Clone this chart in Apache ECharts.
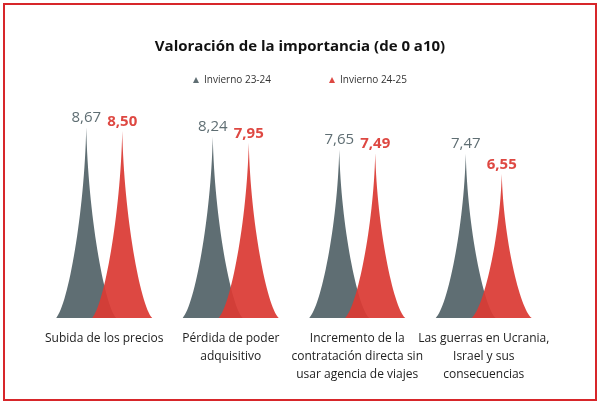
<!DOCTYPE html>
<html>
<head>
<meta charset="utf-8">
<script src="https://cdn.jsdelivr.net/npm/echarts@6/dist/echarts.min.js"></script>
<style>
  html, body { margin: 0; padding: 0; background: #fff; }
  #main { width: 600px; height: 405px; }
</style>
</head>
<body>
<div id="main"></div>
<script>
// datos del gráfico
var categorias = [
  'Subida de los precios',
  'Pérdida de poder\nadquisitivo',
  'Incremento de la\ncontratación directa sin\nusar agencia de viajes',
  'Las guerras en Ucrania,\nIsrael y sus\nconsecuencias'
];
var invierno2324 = [8.67, 8.24, 7.65, 7.47];
var invierno2425 = [8.50, 7.95, 7.49, 6.55];
var nombres = ['Invierno 23-24', 'Invierno 24-25'];

// pico con lados cóncavos (se abre hacia la base)
var spike = 'path://M0,10 L10,10 C8,9.3 5.3,4.5 5,0 C4.7,4.5 2,9.3 0,10 z';
var fuente = '"Open Sans", "Noto Sans", sans-serif';

var chart = echarts.init(document.getElementById('main'));

var option = {
  backgroundColor: '#fff',
  textStyle: { fontFamily: fuente },
  title: {
    text: 'Valoración de la importancia (de 0 a10)',
    left: 'center',
    top: 34,
    textStyle: { fontSize: 15, fontWeight: 'bold', color: '#111', fontFamily: fuente }
  },
  legend: {
    top: 70,
    left: 'center',
    icon: 'triangle',
    itemWidth: 6,
    itemHeight: 6,
    itemGap: 58,
    textStyle: { fontSize: 10, color: '#333', fontFamily: fuente },
    data: nombres
  },
  grid: { left: 41, right: 53, top: 98, bottom: 87 },
  xAxis: {
    type: 'category',
    data: categorias,
    axisLine: { show: false },
    axisTick: { show: false },
    axisLabel: {
      interval: 0,
      margin: 12,
      fontSize: 12,
      lineHeight: 18,
      color: '#222',
      fontFamily: fuente
    }
  },
  yAxis: {
    type: 'value',
    min: 0,
    max: 10,
    show: false,
    splitLine: { show: false }
  },
  series: [
    {
      name: nombres[0],
      type: 'pictorialBar',
      symbol: spike,
      barWidth: 60,
      barGap: '-40%',
      itemStyle: { color: '#5f6e73' },
      label: {
        show: true,
        position: 'top',
        distance: 2,
        fontSize: 15,
        color: '#5f6e73',
        fontFamily: fuente,
        formatter: function (p) { return p.value.toFixed(2).replace('.', ','); }
      },
      data: invierno2324,
      z: 2
    },
    {
      name: nombres[1],
      type: 'pictorialBar',
      symbol: spike,
      barWidth: 60,
      barGap: '-40%',
      itemStyle: { color: '#da3a34', opacity: 0.93 },
      label: {
        show: true,
        position: 'top',
        distance: 2,
        fontSize: 15,
        fontWeight: 'bold',
        color: '#dc3a34',
        fontFamily: fuente,
        formatter: function (p) { return p.value.toFixed(2).replace('.', ','); }
      },
      data: invierno2425,
      z: 3
    }
  ],
  graphic: [
    {
      type: 'rect',
      shape: { x: 4, y: 4, width: 592, height: 396 },
      style: { fill: 'none', stroke: '#d7262a', lineWidth: 2 },
      silent: true
    }
  ]
};

chart.setOption(option);
</script>
</body>
</html>
